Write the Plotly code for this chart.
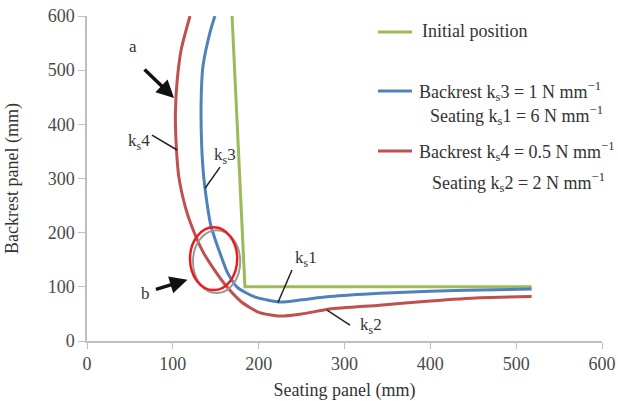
import plotly.graph_objects as go

# ---- data ----
green_x = [169, 184, 518]
green_y = [600, 100, 100]

blue_x = [149, 143, 135, 133, 133.5, 136, 141, 144, 155, 164, 174.5, 184, 198, 225, 250, 283, 341, 400, 458, 518]
blue_y = [600, 568, 506, 445, 365, 303, 242, 215, 162, 125, 100, 90, 80, 72, 76, 82, 88, 92, 94, 96]

red_x = [120, 110, 105, 103, 104, 107, 115, 122, 135, 149, 163, 180, 200, 225, 250, 283, 341, 400, 458, 518]
red_y = [600, 540, 480, 420, 360, 303, 245, 212, 165, 130, 100, 72, 53, 46, 50, 59, 66, 74, 80, 82]

x_ticks = [0, 100, 200, 300, 400, 500, 600]
y_ticks = [0, 100, 200, 300, 400, 500, 600]

GREEN = "#9bbb59"
BLUE = "#4f81bd"
RED = "#c0504d"
FONT = "Liberation Serif"
TXT = "#333333"

W, H = 618, 401
L, R, T, B = 87, 16, 16, 60
pw, ph = W - L - R, H - T - B


def dx(xp):
    return (xp - L) / pw


def dy(yp):
    return 1 - (yp - T) / ph


fig = go.Figure()
fig.add_trace(go.Scatter(x=green_x, y=green_y, mode="lines", line=dict(color=GREEN, width=3),
                         name="Initial position", showlegend=False))
fig.add_trace(go.Scatter(x=blue_x, y=blue_y, mode="lines",
                         line=dict(color=BLUE, width=3, shape="spline", smoothing=0.6),
                         showlegend=False))
fig.add_trace(go.Scatter(x=red_x, y=red_y, mode="lines",
                         line=dict(color=RED, width=3, shape="spline", smoothing=0.6),
                         showlegend=False))

shapes = []
annots = []

# ellipse (gray shadow + red)
shapes.append(dict(type="circle", xref="x", yref="y", x0=123.5, x1=178.5, y0=88.5, y1=204.5,
                   line=dict(color="#999999", width=2)))
shapes.append(dict(type="circle", xref="x", yref="y", x0=120, x1=175, y0=94, y1=210,
                   line=dict(color="#ee1c1c", width=2.5)))

# leader lines for curve labels
leaders = [((75.7, 380), (104.9, 352.6)),
           ((155, 321), (137.5, 282)),
           ((238.8, 131), (222.5, 71)),
           ((306.4, 29.5), (279.6, 57))]
for (a, b) in leaders:
    shapes.append(dict(type="line", xref="x", yref="y", x0=a[0], y0=a[1], x1=b[0], y1=b[1],
                       line=dict(color="#222222", width=1.5)))

labels = [("k<sub>s</sub>4", 60.6, 367), ("k<sub>s</sub>3", 161, 341.5),
          ("k<sub>s</sub>1", 255, 151), ("k<sub>s</sub>2", 331, 27.7),
          ("a", 53.6, 543), ("b", 67.6, 86.8)]
for t, x, y in labels:
    annots.append(dict(text=t, x=x, y=y, xref="x", yref="y", showarrow=False,
                       font=dict(family=FONT, size=17, color=TXT)))

# arrows a and b
annots.append(dict(text="", x=101.4, y=448.6, xref="x", yref="y", ax=-31, ay=-30,
                   showarrow=True, arrowhead=2, arrowsize=1, arrowwidth=3.5, arrowcolor="#111111"))
annots.append(dict(text="", x=117, y=113, xref="x", yref="y", ax=-33, ay=10,
                   showarrow=True, arrowhead=2, arrowsize=1, arrowwidth=3.5, arrowcolor="#111111"))

# legend (drawn manually to match layout)
leg = [(GREEN, 32, [("Initial position", 420, 31)]),
       (BLUE, 91, [("Backrest k<sub>s</sub>3 = 1 N mm<sup>−1</sup>", 417, 91),
                   ("Seating k<sub>s</sub>1 = 6 N mm<sup>−1</sup>", 428, 115)]),
       (RED, 151, [("Backrest k<sub>s</sub>4 = 0.5 N mm<sup>−1</sup>", 417, 151),
                   ("Seating k<sub>s</sub>2 = 2 N mm<sup>−1</sup>", 430, 182)])]
for col, ly, texts in leg:
    shapes.append(dict(type="line", xref="paper", yref="paper", x0=dx(378), x1=dx(412),
                       y0=dy(ly), y1=dy(ly), line=dict(color=col, width=3)))
    for t, tx, ty in texts:
        annots.append(dict(text=t, x=dx(tx), y=dy(ty), xref="paper", yref="paper",
                           xanchor="left", yanchor="middle", showarrow=False,
                           font=dict(family=FONT, size=18, color=TXT)))

fig.update_layout(
    width=W, height=H,
    margin=dict(l=L, r=R, t=T, b=B),
    paper_bgcolor="white", plot_bgcolor="white",
    showlegend=False,
    shapes=shapes,
    annotations=annots,
    font=dict(family=FONT, color=TXT),
)
fig.update_xaxes(range=[0, 600], tickvals=x_ticks, showgrid=False, zeroline=False, automargin=False,
                 showline=True, linecolor="#bfbfbf", linewidth=1.5,
                 ticks="outside", ticklen=6, tickcolor="#bfbfbf",
                 tickfont=dict(family=FONT, size=18, color="#4a4a4a"),
                 title=dict(text="Seating panel (mm)", font=dict(family=FONT, size=18, color=TXT), standoff=12))
fig.update_yaxes(range=[0, 600], tickvals=y_ticks, showgrid=False, zeroline=False, automargin=False,
                 showline=True, linecolor="#bfbfbf", linewidth=1.5,
                 ticks="outside", ticklen=7, tickcolor="#bfbfbf",
                 tickfont=dict(family=FONT, size=18, color="#4a4a4a"),
                 title=dict(text="Backrest panel (mm)", font=dict(family=FONT, size=18, color=TXT), standoff=24))

fig.write_html("out.html")
